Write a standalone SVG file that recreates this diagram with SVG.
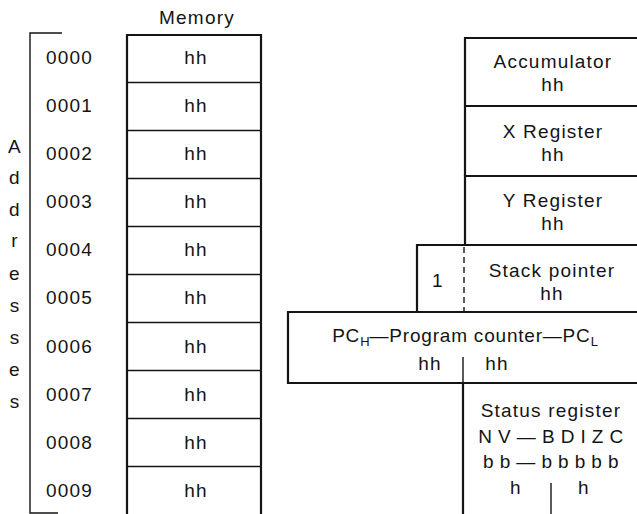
<svg xmlns="http://www.w3.org/2000/svg" width="637" height="514" viewBox="0 0 637 514">
<style>
text{font-family:"Liberation Sans",Arial,sans-serif;font-size:19px;letter-spacing:1.2px;fill:#141414;text-anchor:middle}
.l{text-anchor:start}
.box{fill:none;stroke:#141414;stroke-width:2.2}
.div{fill:none;stroke:#141414;stroke-width:1.6}
.thin{fill:none;stroke:#141414;stroke-width:1.4}
.dash{stroke-dasharray:6 4}
.sub{font-size:13px;letter-spacing:0}
.nv{letter-spacing:0.4px}
</style>
<rect width="637" height="514" fill="#fff"/>
<g id="bracket">
<path class="thin" d="M62,33 H30 V513 H58"/>
<text x="15" y="153">A</text>
<text x="15" y="184">d</text>
<text x="15" y="216">d</text>
<text x="15" y="247">r</text>
<text x="15" y="280">e</text>
<text x="15" y="312">s</text>
<text x="15" y="344">s</text>
<text x="15" y="376">e</text>
<text x="15" y="408">s</text>
</g>
<g id="addresses">
<text class="l" x="46" y="64">0000</text>
<text class="l" x="46" y="112">0001</text>
<text class="l" x="46" y="160">0002</text>
<text class="l" x="46" y="208">0003</text>
<text class="l" x="46" y="256">0004</text>
<text class="l" x="46" y="304">0005</text>
<text class="l" x="46" y="353">0006</text>
<text class="l" x="46" y="401">0007</text>
<text class="l" x="46" y="449">0008</text>
<text class="l" x="46" y="497">0009</text>
</g>
<g id="memory">
<text x="197" y="24">Memory</text>
<path class="box" d="M127,515 V35 H261 V515"/>
<path class="div" d="M127,82.5H261 M127,130.5H261 M127,178.5H261 M127,226.5H261 M127,274.5H261 M127,322.5H261 M127,370.5H261 M127,418.5H261 M127,466.5H261"/>
<text x="196" y="64">hh</text>
<text x="196" y="112">hh</text>
<text x="196" y="160">hh</text>
<text x="196" y="208">hh</text>
<text x="196" y="256">hh</text>
<text x="196" y="304">hh</text>
<text x="196" y="353">hh</text>
<text x="196" y="401">hh</text>
<text x="196" y="449">hh</text>
<text x="196" y="497">hh</text>
</g>
<g id="accumulator">
<path class="box" d="M650,38 H465 V106"/>
<text x="553" y="68">Accumulator</text>
<text x="553" y="91">hh</text>
</g>
<g id="x-register">
<path class="box" d="M650,106 H465 V176"/>
<text x="553" y="138">X Register</text>
<text x="553" y="161">hh</text>
</g>
<g id="y-register">
<path class="box" d="M650,176 H465 V245"/>
<text x="553" y="207">Y Register</text>
<text x="553" y="230">hh</text>
</g>
<g id="stack-pointer">
<path class="box" d="M650,245 H417 V312"/>
<line class="thin dash" x1="464" y1="247" x2="464" y2="312"/>
<text x="438" y="287">1</text>
<text x="552" y="277">Stack pointer</text>
<text x="552" y="300">hh</text>
</g>
<g id="program-counter">
<path class="box" d="M650,312 H288 V383 H650"/>
<text x="465" y="342" style="letter-spacing:0.8px">PC<tspan class="sub" dy="4">H</tspan><tspan dy="-4">—Program counter—PC</tspan><tspan class="sub" dy="4">L</tspan></text>
<text x="430" y="370">hh</text>
<text x="497" y="370">hh</text>
<line class="thin" x1="463" y1="357" x2="463" y2="383"/>
</g>
<g id="status-register">
<path class="box" d="M463,383 V515"/>
<text x="551" y="417">Status register</text>
<text class="nv" x="551" y="443">N V — B D I Z C</text>
<text class="nv" x="551" y="468">b b — b b b b b</text>
<text x="516" y="494">h</text>
<text x="584" y="494">h</text>
<line class="thin" x1="551" y1="483" x2="551" y2="515"/>
</g>
</svg>
